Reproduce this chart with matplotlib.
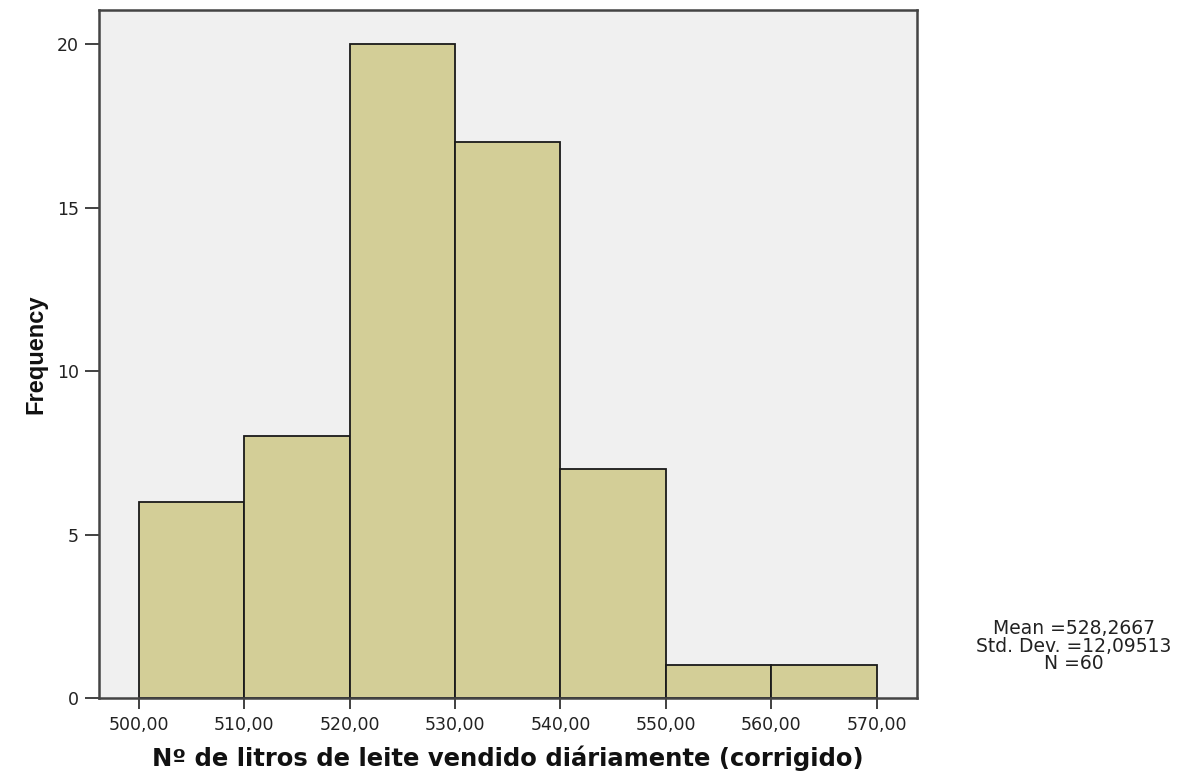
import matplotlib
matplotlib.use("Agg")
import matplotlib.pyplot as plt
import numpy as np

# Data
bin_edges = [500, 510, 520, 530, 540, 550, 560, 570]
counts = [6, 8, 20, 17, 7, 1, 1]
x_ticks = [500, 510, 520, 530, 540, 550, 560, 570]
x_tick_labels = ["500,00", "510,00", "520,00", "530,00", "540,00", "550,00", "560,00", "570,00"]
y_ticks = [0, 5, 10, 15, 20]
x_label = "Nº de litros de leite vendido diáriamente (corrigido)"
y_label = "Frequency"
stats_text = "Mean =528,2667\nStd. Dev. =12,09513\nN =60"

fig = plt.figure(figsize=(11.89, 7.71), dpi=100)
fig.patch.set_facecolor("white")
ax = fig.add_axes([98.5 / 1189, 73 / 771, (917 - 98.5) / 1189, (698 - 10) / 771])
ax.set_facecolor("#F0F0F0")

lefts = bin_edges[:-1]
widths = np.diff(bin_edges)
ax.bar(lefts, counts, width=widths, align="edge", color="#D3CE97",
       edgecolor="#1a1a1a", linewidth=1.3, zorder=2)

ax.set_xlim(496.2, 573.8)
ax.set_ylim(0, 21.04)

ax.set_xticks(x_ticks)
ax.set_xticklabels(x_tick_labels, fontfamily="DejaVu Sans", fontsize=12.5, color="#222222")
ax.set_yticks(y_ticks)
ax.set_yticklabels([str(v) for v in y_ticks], fontfamily="DejaVu Sans", fontsize=12.5, color="#222222")

ax.tick_params(axis="x", direction="out", length=8, width=1.3, color="#333333", pad=5)
ax.tick_params(axis="y", direction="out", length=10, width=1.3, color="#333333", pad=4)

for side in ["top", "right", "left", "bottom"]:
    ax.spines[side].set_color("#444444")
    ax.spines[side].set_linewidth(1.8)

ax.set_xlabel(x_label, fontfamily="DejaVu Sans", fontweight="bold", fontsize=17.5, color="#111111")
ax.xaxis.set_label_coords(0.5, -0.069)
ax.xaxis.label.set_va("top")

ax.set_ylabel(y_label, fontfamily="Liberation Sans", fontweight="bold", fontsize=17, color="#111111")
ax.yaxis.set_label_coords(-0.062, 0.5)

fig.text(1074 / 1189, 1 - 646 / 771, stats_text, ha="center", va="center",
         fontfamily="DejaVu Sans", fontsize=13.5, color="#222222", linespacing=0.9,
         multialignment="center")

fig.savefig("out.png", dpi=100)
